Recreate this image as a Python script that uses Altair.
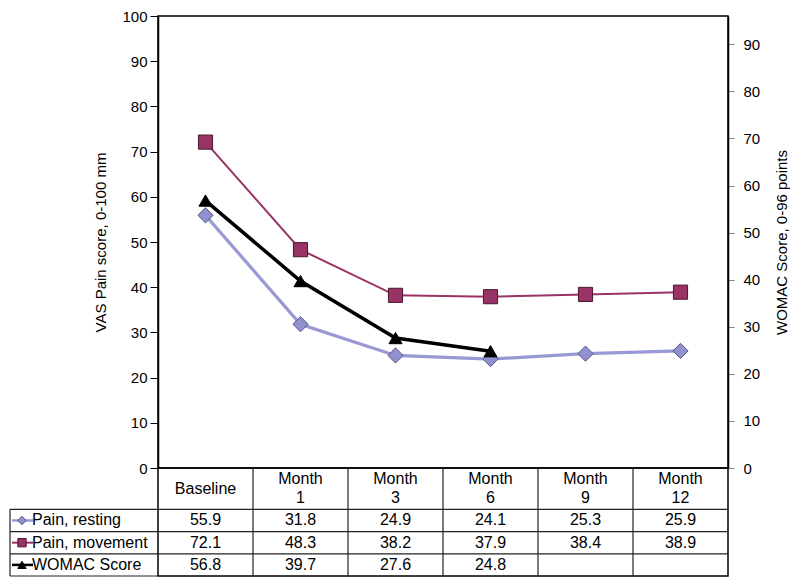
import altair as alt
import pandas as pd

# ---------------- data ----------------
categories = ["Baseline", "Month 1", "Month 3", "Month 6", "Month 9", "Month 12"]
header_line1 = ["Baseline", "Month", "Month", "Month", "Month", "Month"]
header_line2 = ["", "1", "3", "6", "9", "12"]
series_names = ["Pain, resting", "Pain, movement", "WOMAC Score"]
pain_resting = [55.9, 31.8, 24.9, 24.1, 25.3, 25.9]
pain_movement = [72.1, 48.3, 38.2, 37.9, 38.4, 38.9]
womac_score = [56.8, 39.7, 27.6, 24.8, None, None]

# ---------------- styles ----------------
line_colors = ["#9999D6", "#993366", "#000000"]
fill_colors = ["#9191CF", "#993366", "#000000"]
outline_colors = ["#55557F", "#4A1530", "#000000"]
shapes = ["diamond", "square", "triangle-up"]
line_widths = [3.2, 2, 3.5]
FONT = "Liberation Sans"

PLOT_W, PLOT_H = 570, 452
TABLE_H = 108
COL_PX = PLOT_W / len(categories)
LABEL_PX = 148
label_units = LABEL_PX / COL_PX
header_units = 1.86
n_rows = len(series_names)
table_units = header_units + n_rows
row_px = TABLE_H / table_units

all_series = [pain_resting, pain_movement, womac_score]
rows = []
for s, vals in zip(series_names, all_series):
    for i, (c, v) in enumerate(zip(categories, vals)):
        if v is not None:
            rows.append({"series": s, "category": c, "xpos": i + 0.5, "value": v})
long_df = pd.DataFrame(rows)

x_enc = alt.X("xpos:Q", scale=alt.Scale(domain=[0, len(categories)], nice=False, zero=False), axis=None)
fill_enc = alt.Fill("series:N", scale=alt.Scale(domain=series_names, range=fill_colors), legend=None)
stroke_enc = alt.Stroke("series:N", scale=alt.Scale(domain=series_names, range=outline_colors), legend=None)
shape_enc = alt.Shape("series:N", scale=alt.Scale(domain=series_names, range=shapes), legend=None)
size_enc = alt.Size("series:N", scale=alt.Scale(domain=series_names, range=[230, 170, 190]), legend=None)

left_axis = alt.Axis(values=list(range(0, 101, 10)), grid=False, domainColor="black", domainWidth=1.5,
                     tickColor="black", tickSize=8, tickWidth=1, labelFontSize=15, labelColor="black",
                     labelPadding=3, title="VAS Pain score, 0-100 mm", titleFontSize=15,
                     titleFontWeight="normal", titleColor="black", titlePadding=13)
right_axis = alt.Axis(orient="right", values=list(range(0, 91, 10)), grid=False, domainColor="black",
                      domainWidth=1.5, tickColor="#888888", tickSize=6, tickWidth=1, labelFontSize=15,
                      labelColor="black", labelPadding=9, title="WOMAC Score, 0-96 points",
                      titleFontSize=15, titleFontWeight="normal", titleColor="black",
                      titleAngle=270, titleBaseline="top", titlePadding=15)

y_vas = alt.Y("value:Q", scale=alt.Scale(domain=[0, 100], nice=False), axis=left_axis)
y_wom = alt.Y("value:Q", scale=alt.Scale(domain=[0, 96], nice=False), axis=right_axis)


def series_layer(k, y_enc):
    d = long_df[long_df.series == series_names[k]]
    ln = alt.Chart(d).mark_line(color=line_colors[k], strokeWidth=line_widths[k]).encode(x=x_enc, y=y_enc)
    pt = alt.Chart(d).mark_point(filled=True, opacity=1, strokeWidth=1).encode(
        x=x_enc, y=y_enc, fill=fill_enc, stroke=stroke_enc, shape=shape_enc, size=size_enc)
    return [ln, pt]


vas_layer = alt.layer(*series_layer(0, y_vas), *series_layer(1, y_vas))
wom_layer = alt.layer(*series_layer(2, y_wom))
top = alt.layer(vas_layer, wom_layer).resolve_scale(y="independent").properties(width=PLOT_W, height=PLOT_H)

# ---------------- table ----------------
tx = alt.Scale(domain=[0, len(categories)], nice=False, zero=False)
ty = alt.Scale(domain=[0, table_units], nice=False, zero=False, reverse=True)

rule_rows = []
for k in range(1, len(categories)):
    rule_rows.append({"x": k, "x2": k, "y": 0, "y2": table_units})
rule_rows.append({"x": -label_units, "x2": -label_units, "y": header_units, "y2": table_units})
for r in range(n_rows + 1):
    yy = header_units + r
    rule_rows.append({"x": -label_units, "x2": 0 if r in (0, n_rows) else len(categories), "y": yy, "y2": yy})
rule_rows.append({"x": 0, "x2": len(categories), "y": header_units, "y2": header_units})
rules_df = pd.DataFrame(rule_rows)

half_line = 9.5 / row_px
header_rows = []
for i, (a, b) in enumerate(zip(header_line1, header_line2)):
    if b:
        header_rows.append({"xpos": i + 0.5, "y": header_units / 2 - half_line, "label": a})
        header_rows.append({"xpos": i + 0.5, "y": header_units / 2 + half_line, "label": b})
    else:
        header_rows.append({"xpos": i + 0.5, "y": header_units / 2, "label": a})
header_df = pd.DataFrame(header_rows)

val_rows = []
for r, (s, vals) in enumerate(zip(series_names, all_series)):
    for i, v in enumerate(vals):
        if v is not None:
            val_rows.append({"xpos": i + 0.5, "y": header_units + r + 0.5, "label": f"{v:.1f}"})
val_df = pd.DataFrame(val_rows)

leg_df = pd.DataFrame({
    "series": series_names,
    "y": [header_units + r + 0.5 for r in range(n_rows)],
    "x0": [-label_units + 2 / COL_PX] * n_rows,
    "x1": [-label_units + 23 / COL_PX] * n_rows,
    "xm": [-label_units + 12 / COL_PX] * n_rows,
    "xt": [-label_units + 22 / COL_PX] * n_rows,
})

leg_rules = [
    alt.Chart(leg_df[leg_df.series == s]).mark_rule(color=line_colors[k], strokeWidth=min(line_widths[k], 2.5)).encode(
        x=alt.X("x0:Q", scale=tx, axis=None), x2="x1:Q", y=alt.Y("y:Q", scale=ty, axis=None))
    for k, s in enumerate(series_names)
]

table = alt.layer(
    alt.Chart(rules_df).mark_rule(color="#222222", strokeWidth=1.2).encode(
        x=alt.X("x:Q", scale=tx, axis=None), x2="x2:Q",
        y=alt.Y("y:Q", scale=ty, axis=None), y2="y2:Q"),
    alt.Chart(header_df).mark_text(fontSize=16, baseline="middle", color="black").encode(
        x=alt.X("xpos:Q", scale=tx, axis=None), y=alt.Y("y:Q", scale=ty, axis=None), text="label:N"),
    alt.Chart(val_df).mark_text(fontSize=16, baseline="middle", color="black").encode(
        x=alt.X("xpos:Q", scale=tx, axis=None), y=alt.Y("y:Q", scale=ty, axis=None), text="label:N"),
    *leg_rules,
    alt.Chart(leg_df).mark_point(filled=True, opacity=1, strokeWidth=1, size=70).encode(
        x=alt.X("xm:Q", scale=tx, axis=None), y=alt.Y("y:Q", scale=ty, axis=None),
        fill=fill_enc, stroke=stroke_enc, shape=shape_enc),
    alt.Chart(leg_df).mark_text(fontSize=16, align="left", baseline="middle", color="black").encode(
        x=alt.X("xt:Q", scale=tx, axis=None), y=alt.Y("y:Q", scale=ty, axis=None), text="series:N"),
).properties(width=PLOT_W, height=TABLE_H)

chart = alt.vconcat(top, table, spacing=0, bounds="flush").properties(
    padding={"left": 0, "top": 0, "right": 0, "bottom": 0}
).configure(font=FONT).configure_view(stroke="black", strokeWidth=1.5)

chart.save("out.html", embed_options={"renderer": "svg", "actions": False})
